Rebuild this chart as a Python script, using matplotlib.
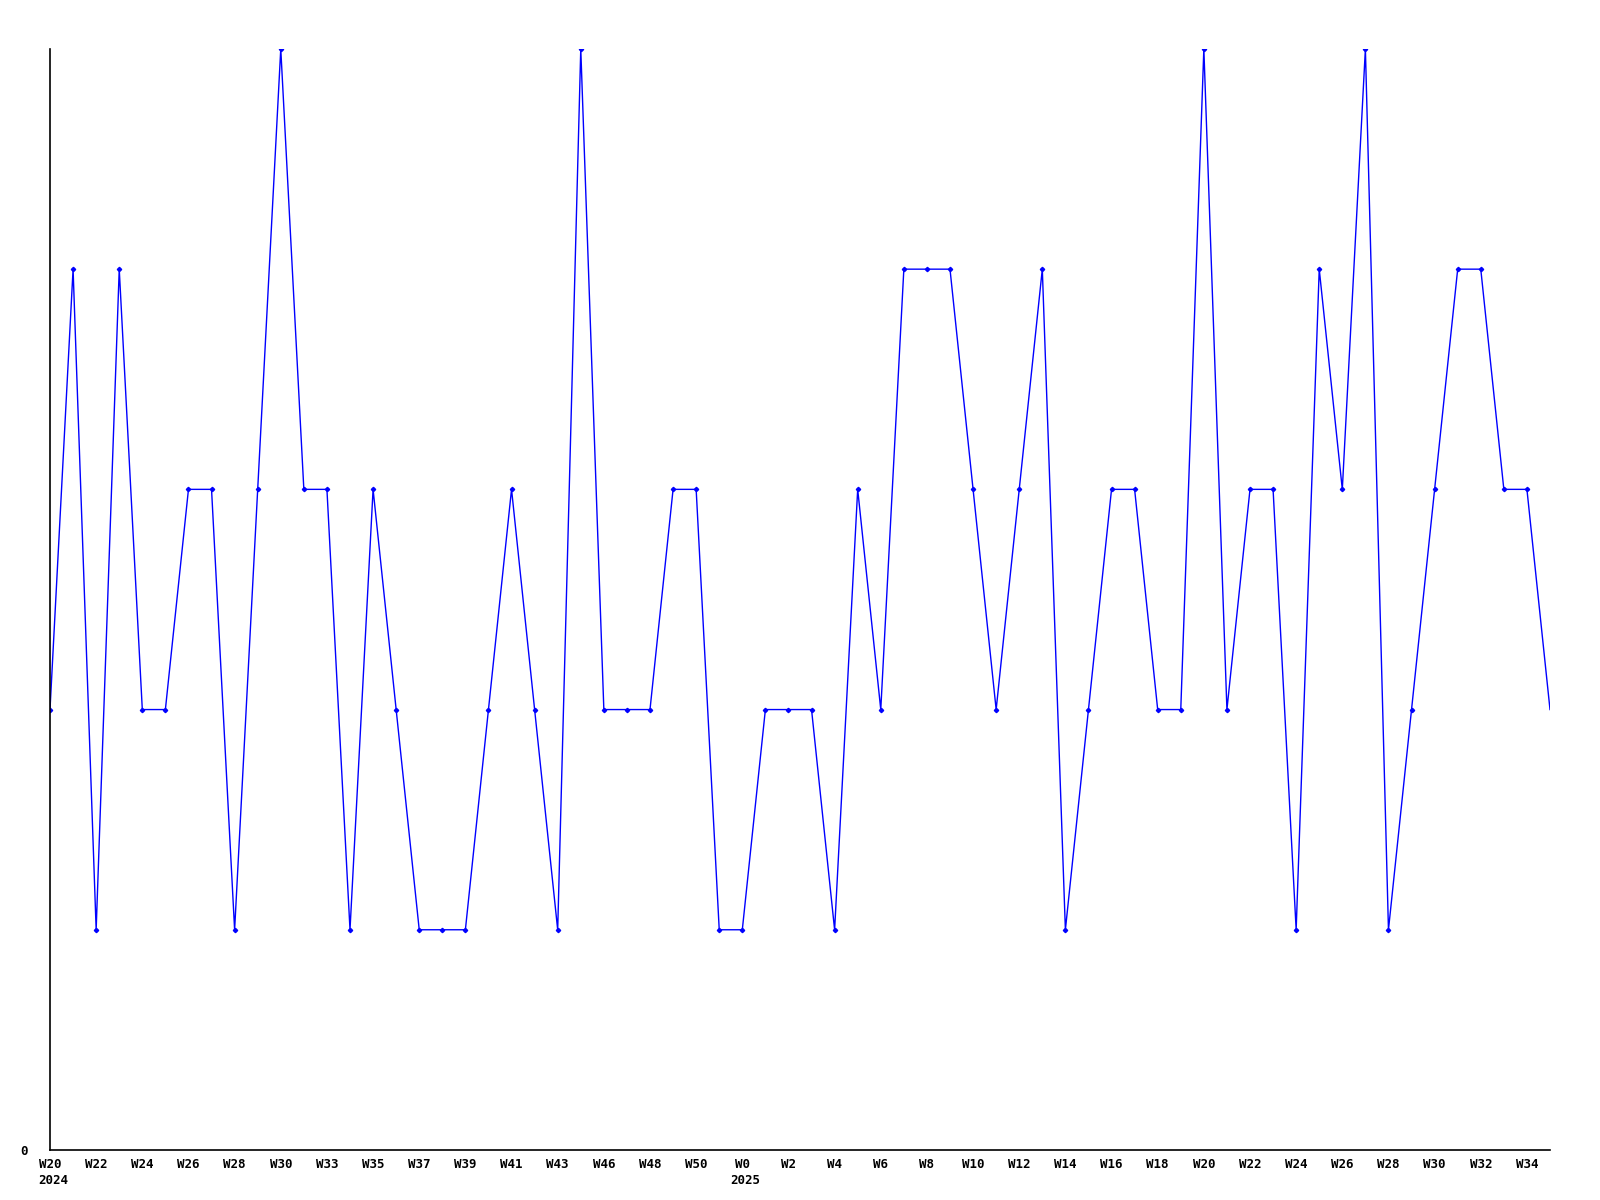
import matplotlib
matplotlib.use("Agg")
import matplotlib.pyplot as plt
import matplotlib.transforms as mtransforms

# weekly values, W20 2024 .. W35 2025
values = [2, 4, 1, 4, 2, 2, 3, 3, 1, 3,
          5, 3, 3, 1, 3, 2, 1, 1, 1, 2,
          3, 2, 1, 5, 2, 2, 2, 3, 3, 1,
          1, 2, 2, 2, 1, 3, 2, 4, 4, 4,
          3, 2, 3, 4, 1, 2, 3, 3, 2, 2,
          5, 2, 3, 3, 1, 4, 3, 5, 1, 2,
          3, 4, 4, 3, 3, 2]

tick_labels = ["W20", "W22", "W24", "W26", "W28", "W30", "W33", "W35",
               "W37", "W39", "W41", "W43", "W46", "W48", "W50", "W0",
               "W2", "W4", "W6", "W8", "W10", "W12", "W14", "W16",
               "W18", "W20", "W22", "W24", "W26", "W28", "W30", "W32", "W34"]
years = {0: "2024", 30: "2025"}

x = list(range(len(values)))
ticks = list(range(0, 2 * len(tick_labels), 2))

font = dict(family="DejaVu Sans Mono", fontweight="bold", fontsize=9)

fig = plt.figure(figsize=(16, 12), dpi=100)
ax = fig.add_axes([0.03125, 0.0417, 0.9375, 0.9175])

ax.plot(x, values, color="#0000ff", linewidth=1.0, marker="D",
        markersize=2.2, markevery=list(range(len(values) - 1)))

ax.set_xlim(0, len(values) - 1)
ax.set_ylim(0, 5)

ax.spines["top"].set_visible(False)
ax.spines["right"].set_visible(False)
ax.spines["left"].set_linewidth(1.2)
ax.spines["bottom"].set_linewidth(1.2)

ax.set_xticks(ticks)
ax.set_xticklabels(tick_labels, **font)
ax.set_yticks([0])
ax.set_yticklabels(["0"], **font)
ax.tick_params(axis="x", length=0, pad=6)
ax.tick_params(axis="y", length=0, pad=16)

# year labels under the first week of each year
trans = mtransforms.blended_transform_factory(ax.transData, ax.transAxes)
for idx, yr in years.items():
    ax.annotate(yr, xy=(idx, 0), xycoords=trans, xytext=(-12, -24),
                textcoords="offset pixels", ha="left", va="top", **font)

fig.savefig("out.png", dpi=100)
